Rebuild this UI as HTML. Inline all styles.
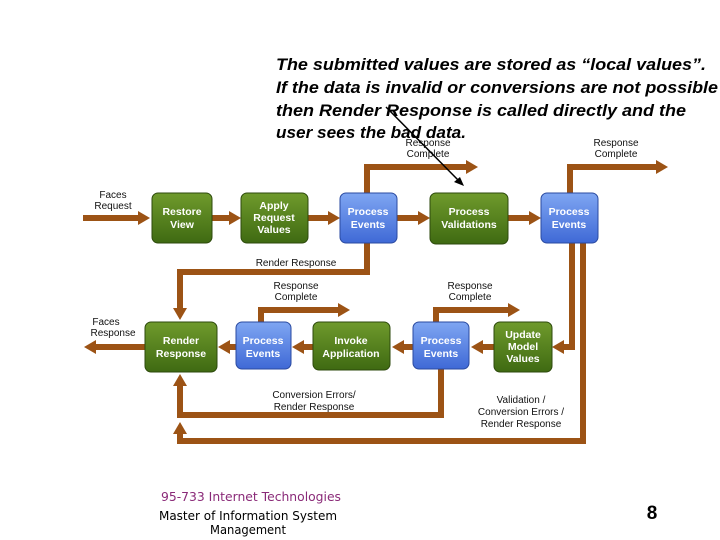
<!DOCTYPE html>
<html><head><style>
html,body{margin:0;padding:0;background:#fff;}
svg{display:block;}
</style></head><body>
<svg width="720" height="540" viewBox="0 0 720 540" xmlns="http://www.w3.org/2000/svg" font-family="Liberation Sans, sans-serif">
<defs>
<linearGradient id="g" x1="0" y1="0" x2="0" y2="1"><stop offset="0" stop-color="#6f9a2c"/><stop offset="1" stop-color="#3f6a12"/></linearGradient>
<linearGradient id="b" x1="0" y1="0" x2="0" y2="1"><stop offset="0" stop-color="#7fa6f2"/><stop offset="1" stop-color="#3f69d6"/></linearGradient>
<marker id="ah" markerWidth="12" markerHeight="14" refX="2" refY="7" orient="auto" markerUnits="userSpaceOnUse"><path d="M0,0 L12,7 L0,14 z" fill="#9c5315"/></marker>
</defs>

<g font-weight="bold" font-style="italic" font-size="17" fill="#000">
<text x="276" y="70" textLength="430" lengthAdjust="spacingAndGlyphs">The submitted values are stored as “local values”.</text>
<text x="276" y="93" textLength="442" lengthAdjust="spacingAndGlyphs">If the data is invalid or conversions are not possible</text>
<text x="276" y="116" textLength="410" lengthAdjust="spacingAndGlyphs">then Render Response is called directly and the</text>
<text x="276" y="138" textLength="190" lengthAdjust="spacingAndGlyphs">user sees the bad data.</text>
</g>

<g stroke="#9c5315" stroke-width="6" fill="none">
<line x1="83" y1="218" x2="140" y2="218" marker-end="url(#ah)"/>
<line x1="212" y1="218" x2="231" y2="218" marker-end="url(#ah)"/>
<line x1="308" y1="218" x2="330" y2="218" marker-end="url(#ah)"/>
<line x1="397" y1="218" x2="420" y2="218" marker-end="url(#ah)"/>
<line x1="508" y1="218" x2="531" y2="218" marker-end="url(#ah)"/>
<polyline points="367,193 367,167 468,167" marker-end="url(#ah)"/>
<polyline points="570,193 570,167 658,167" marker-end="url(#ah)"/>
<polyline points="367,243 367,272 180,272 180,310" marker-end="url(#ah)"/>
<polyline points="572,243 572,347 562,347" marker-end="url(#ah)"/>
<polyline points="583,243 583,441 180,441 180,432" marker-end="url(#ah)"/>
<polyline points="441,368 441,415 180,415 180,384" marker-end="url(#ah)"/>
<polyline points="261,322 261,310 340,310" marker-end="url(#ah)"/>
<polyline points="436,322 436,310 510,310" marker-end="url(#ah)"/>
<line x1="494" y1="347" x2="481" y2="347" marker-end="url(#ah)"/>
<line x1="413" y1="347" x2="402" y2="347" marker-end="url(#ah)"/>
<line x1="313" y1="347" x2="302" y2="347" marker-end="url(#ah)"/>
<line x1="236" y1="347" x2="228" y2="347" marker-end="url(#ah)"/>
<line x1="145" y1="347" x2="94" y2="347" marker-end="url(#ah)"/>
</g>

<g stroke="#2d4a0c" stroke-width="1">
<rect x="152" y="193" width="60" height="50" rx="6" fill="url(#g)"/>
<rect x="241" y="193" width="67" height="50" rx="6" fill="url(#g)"/>
<rect x="430" y="193" width="78" height="51" rx="6" fill="url(#g)"/>
<rect x="145" y="322" width="72" height="50" rx="6" fill="url(#g)"/>
<rect x="313" y="322" width="77" height="48" rx="6" fill="url(#g)"/>
<rect x="494" y="322" width="58" height="50" rx="6" fill="url(#g)"/>
</g>
<g stroke="#2a4aa0" stroke-width="1">
<rect x="340" y="193" width="57" height="50" rx="6" fill="url(#b)"/>
<rect x="541" y="193" width="57" height="50" rx="6" fill="url(#b)"/>
<rect x="236" y="322" width="55" height="47" rx="6" fill="url(#b)"/>
<rect x="413" y="322" width="56" height="47" rx="6" fill="url(#b)"/>
</g>

<g font-size="10.5" font-weight="bold" fill="#fff" text-anchor="middle">
<text x="182" y="215">Restore</text><text x="182" y="228">View</text>
<text x="274" y="209">Apply</text><text x="274" y="221">Request</text><text x="274" y="233">Values</text>
<text x="368" y="215">Process</text><text x="368" y="228">Events</text>
<text x="469" y="215">Process</text><text x="469" y="228">Validations</text>
<text x="569" y="215">Process</text><text x="569" y="228">Events</text>
<text x="181" y="344">Render</text><text x="181" y="357">Response</text>
<text x="263" y="344">Process</text><text x="263" y="357">Events</text>
<text x="351" y="344">Invoke</text><text x="351" y="357">Application</text>
<text x="441" y="344">Process</text><text x="441" y="357">Events</text>
<text x="523" y="338">Update</text><text x="523" y="350">Model</text><text x="523" y="362">Values</text>
</g>

<g font-size="10" fill="#111" text-anchor="middle">
<text x="113" y="198">Faces</text><text x="113" y="209">Request</text>
<text x="106" y="325">Faces</text><text x="113" y="336">Response</text>
<text x="428" y="146">Response</text><text x="428" y="157">Complete</text>
<text x="616" y="146">Response</text><text x="616" y="157">Complete</text>
<text x="296" y="266">Render Response</text>
<text x="296" y="289">Response</text><text x="296" y="300">Complete</text>
<text x="470" y="289">Response</text><text x="470" y="300">Complete</text>
<text x="314" y="398">Conversion Errors/</text><text x="314" y="410">Render Response</text>
<text x="521" y="403">Validation /</text><text x="521" y="415">Conversion Errors /</text><text x="521" y="427">Render Response</text>
</g>

<line x1="386" y1="107" x2="460" y2="182" stroke="#000" stroke-width="1.5"/>
<path d="M464,186 L454,182 L460,177 z" fill="#000"/>

<g font-size="12" text-anchor="middle" font-family="DejaVu Sans, sans-serif">
<text x="251" y="501" fill="#8a2a78" textLength="180" lengthAdjust="spacingAndGlyphs">95-733 Internet Technologies</text>
<text x="248" y="520" fill="#000" textLength="178" lengthAdjust="spacingAndGlyphs">Master of Information System</text>
<text x="248" y="534" fill="#000" textLength="76" lengthAdjust="spacingAndGlyphs">Management</text>
</g>
<text x="652" y="519" font-size="19" font-weight="bold" text-anchor="middle" fill="#000">8</text>
</svg>
</body></html>
